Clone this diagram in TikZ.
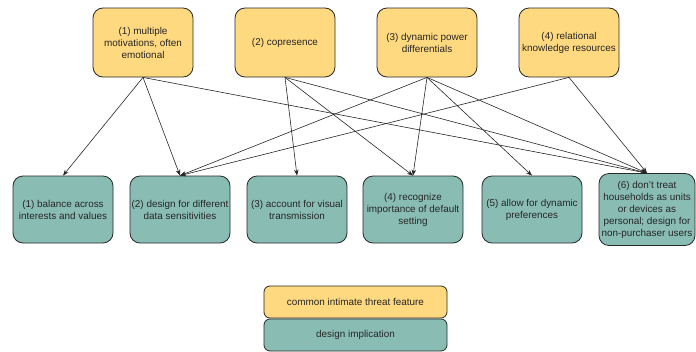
\documentclass[tikz,border=0pt]{standalone}
\usepackage{fontspec}
\setmainfont{Liberation Sans}
\usetikzlibrary{arrows.meta}
\definecolor{featfill}{RGB}{255,217,128}
\definecolor{implfill}{RGB}{137,189,180}
\definecolor{edgecol}{RGB}{40,40,40}
\tikzset{
  feat/.style={draw=edgecol, line width=0.8pt, fill=featfill, rounded corners=10pt,
    minimum width=100pt, minimum height=69pt, align=center, inner sep=1pt,
    font=\fontsize{9.9}{12}\selectfont, text=black!85},
  impl/.style={draw=edgecol, line width=0.8pt, fill=implfill, rounded corners=10pt,
    minimum width=100pt, minimum height=67pt, align=center, inner sep=1pt,
    font=\fontsize{9.9}{12}\selectfont, text=black!85},
  legf/.style={draw=edgecol, line width=0.8pt, rounded corners=6pt,
    minimum width=183pt, minimum height=32pt, align=center, inner sep=1pt,
    font=\fontsize{9.9}{12}\selectfont, text=black!85},
  link/.style={draw=black!85, line width=0.6pt, -{Stealth[length=6pt,width=4.5pt]}}
}
\begin{document}
\begin{tikzpicture}[x=1pt,y=-1pt]
\useasboundingbox (0,0) rectangle (696,351);
% top features
\node[feat] (t1) at (143,42.5) {(1) multiple\\motivations, often\\emotional};
\node[feat] (t2) at (285,42.5) {(2) copresence};
\node[feat] (t3) at (427,42.5) {(3) dynamic power\\differentials};
\node[feat] (t4) at (569,42.5) {(4) relational\\knowledge resources};
% bottom implications
\node[impl] (b1) at (63,209.5) {(1) balance across\\interests and values};
\node[impl] (b2) at (180,209.5) {(2) design for different\\data sensitivities};
\node[impl] (b3) at (297,209.5) {(3) account for visual\\transmission};
\node[impl] (b4) at (413,209.5) {(4) recognize\\importance of default\\setting};
\node[impl] (b5) at (532,209.5) {(5) allow for dynamic\\preferences};
\node[impl, minimum width=96pt, minimum height=72pt] (b6) at (647,209.5) {(6) don't treat\\households as units\\or devices as\\personal; design for\\non-purchaser users};
% legend
\node[legf, fill=implfill] (limpl) at (355.5,335) {design implication};
\node[legf, fill=featfill] (lfeat) at (355.5,302) {common intimate threat feature};
% connectors
\draw[link] (t1.south) -- (b1.north);
\draw[link] (t1.south) -- (b2.north);
\draw[link] (t1.south) -- (b6.north);
\draw[link] (t2.south) -- (b3.north);
\draw[link] (t2.south) -- (b4.north);
\draw[link] (t2.south) -- (b6.north);
\draw[link] (t3.south) -- (b2.north);
\draw[link] (t3.south) -- (b4.north);
\draw[link] (t3.south) -- (b5.north);
\draw[link] (t3.south) -- (b6.north);
\draw[link] (t4.south) -- (b2.north);
\draw[link] (t4.south) -- (b6.north);
\end{tikzpicture}
\end{document}
